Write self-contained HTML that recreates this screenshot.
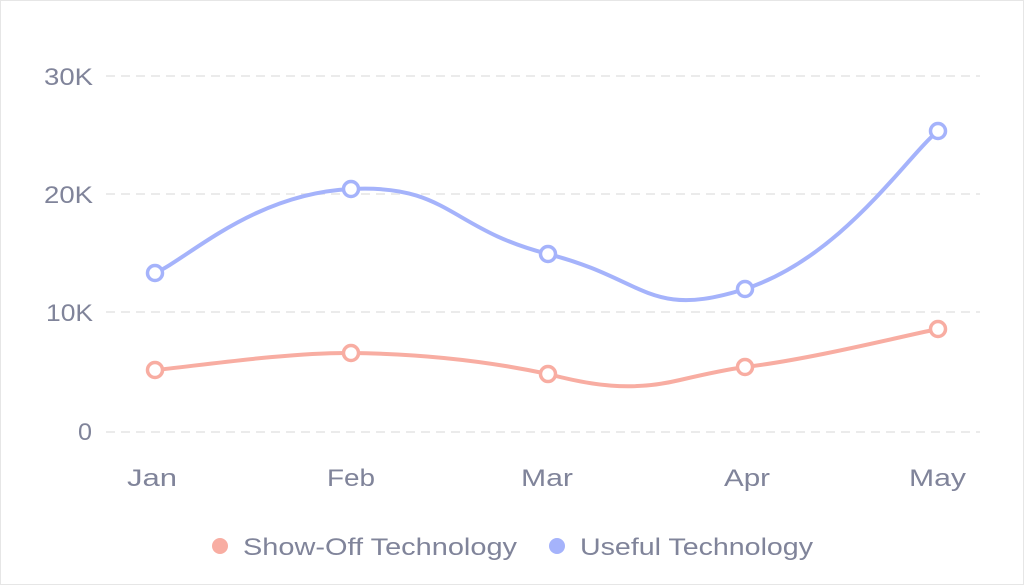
<!DOCTYPE html>
<html><head><style>
html,body{margin:0;padding:0;background:#fff;}
svg{display:block;}
text{font-family:"Liberation Sans",sans-serif;fill:#80849a;}
</style></head><body>
<svg width="1024" height="585" viewBox="0 0 1024 585">
<rect x="0.5" y="0.5" width="1023" height="584" fill="#fff" stroke="#e6e6e6"/>
<g stroke="#ebebeb" stroke-width="2" stroke-dasharray="9,6">
<line x1="106" y1="76" x2="980" y2="76"/>
<line x1="106" y1="194" x2="980" y2="194"/>
<line x1="106" y1="312" x2="980" y2="312"/>
<line x1="106" y1="432" x2="980" y2="432"/>
</g>
<g font-size="24">
<text x="44" y="85" textLength="49" lengthAdjust="spacingAndGlyphs">30K</text>
<text x="44" y="203" textLength="49" lengthAdjust="spacingAndGlyphs">20K</text>
<text x="46" y="321" textLength="47" lengthAdjust="spacingAndGlyphs">10K</text>
<text x="78" y="440" textLength="14" lengthAdjust="spacingAndGlyphs">0</text>
</g>
<g font-size="24">
<text x="127" y="486" textLength="50" lengthAdjust="spacingAndGlyphs">Jan</text>
<text x="327" y="486" textLength="48" lengthAdjust="spacingAndGlyphs">Feb</text>
<text x="521" y="486" textLength="52" lengthAdjust="spacingAndGlyphs">Mar</text>
<text x="724" y="486" textLength="46" lengthAdjust="spacingAndGlyphs">Apr</text>
<text x="909" y="486" textLength="57" lengthAdjust="spacingAndGlyphs">May</text>
</g>
<path d="M155,273 C187.7,259 252.7,193.75 351,189 C449,184 449.5,229 548,254 C646.5,279 647.5,320 745,289 C842.5,257 905.8,157.3 938,131" fill="none" stroke="#a5b3fb" stroke-width="4"/>
<path d="M155,370 C187.7,367.2 285.5,352.3 351,353 C416.5,353.7 482.3,360 548,374 C590,385 630,392 680,380 C710,373 730,369 745,367 C810,359.5 905.8,335.3 938,329" fill="none" stroke="#f8ada2" stroke-width="4"/>
<g fill="#fff" stroke="#a5b3fb" stroke-width="3.5">
<circle cx="155" cy="273" r="7.5"/><circle cx="351" cy="189" r="7.5"/><circle cx="548" cy="254" r="7.5"/><circle cx="745" cy="289" r="7.5"/><circle cx="938" cy="131" r="7.5"/>
</g>
<g fill="#fff" stroke="#f8ada2" stroke-width="3.5">
<circle cx="155" cy="370" r="7.5"/><circle cx="351" cy="353" r="7.5"/><circle cx="548" cy="374" r="7.5"/><circle cx="745" cy="367" r="7.5"/><circle cx="938" cy="329" r="7.5"/>
</g>
<circle cx="220" cy="546" r="8" fill="#f8ada2"/>
<text x="243" y="555" font-size="24" textLength="274" lengthAdjust="spacingAndGlyphs">Show-Off Technology</text>
<circle cx="557" cy="546" r="8" fill="#a5b3fb"/>
<text x="580" y="555" font-size="24" textLength="233" lengthAdjust="spacingAndGlyphs">Useful Technology</text>
</svg>
</body></html>
